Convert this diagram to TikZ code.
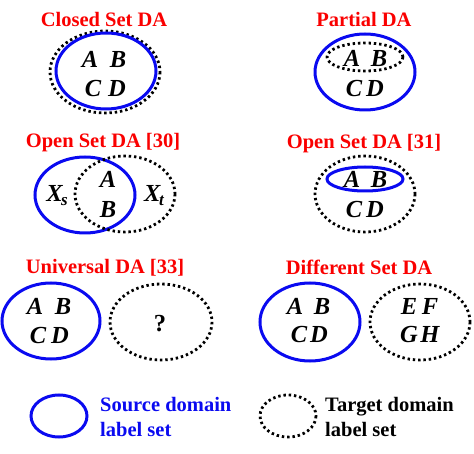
\documentclass[tikz,border=0pt]{standalone}
\usepackage{fontspec}
\setmainfont{Liberation Serif}
\definecolor{tred}{RGB}{250,0,0}
\definecolor{sblue}{RGB}{10,10,240}
\begin{document}
\begin{tikzpicture}[x=1pt,y=-1pt,
  src/.style={draw=sblue,line width=3pt},
  tgt/.style={draw=black,line width=2.8pt,dash pattern=on 2.4pt off 2.9pt},
  ttl/.style={anchor=base,text=tred,font=\fontsize{20.5}{22}\selectfont\bfseries,inner sep=0pt},
  lab/.style={anchor=base,font=\fontsize{24.5}{26}\selectfont\bfseries\itshape,inner sep=0pt},
  leg/.style={anchor=base west,font=\fontsize{20.5}{22}\selectfont\bfseries,inner sep=0pt}]
\useasboundingbox (0,0) rectangle (474,454);
% Closed Set DA
\node[ttl] (t1) at (104,27) {Closed Set DA};
\draw[tgt] (105,72) ellipse [x radius=55,y radius=41];
\draw[src] (106,71) ellipse [x radius=50,y radius=38];
\node[lab] (a1) at (90,68) {A};
\node[lab] (b1) at (118,68) {B};
\node[lab] (c1) at (93,97) {C};
\node[lab] (d1) at (117,97) {D};
% Partial DA
\node[ttl] (t2) at (364,27) {Partial DA};
\draw[src] (365,72) ellipse [x radius=50,y radius=38];
\draw[tgt] (365,57) ellipse [x radius=38,y radius=14];
\node[lab] (a2) at (352,67) {A};
\node[lab] (b2) at (379,67) {B};
\node[lab] (c2) at (354,97) {C};
\node[lab] (d2) at (375,97) {D};
% Open Set DA [30]
\node[ttl] (t3) at (103,148) {Open Set DA [30]};
\draw[src] (85,195) ellipse [x radius=50,y radius=38];
\draw[tgt] (125,194) ellipse [x radius=50,y radius=38];
\node[lab] (xs) at (57,202) {X\kern-1.5pt\raisebox{-4pt}{\fontsize{17}{18}\selectfont s}};
\node[lab] (a3) at (108,188) {A};
\node[lab] (b3) at (108,218) {B};
\node[lab] (xt) at (154,202) {X\kern-1.5pt\raisebox{-4pt}{\fontsize{17}{18}\selectfont t}};
% Open Set DA [31]
\node[ttl] (t4) at (364,149) {Open Set DA [31]};
\draw[tgt] (365,194) ellipse [x radius=50,y radius=38];
\draw[src] (365,179) ellipse [x radius=38,y radius=12];
\node[lab] (a4) at (352,188) {A};
\node[lab] (b4) at (379,188) {B};
\node[lab] (c4) at (354,218) {C};
\node[lab] (d4) at (375,218) {D};
% Universal DA [33]
\node[ttl] (t5) at (105,274) {Universal DA [33]};
\draw[src] (51,321) ellipse [x radius=49,y radius=38];
\draw[tgt] (161,322) ellipse [x radius=51,y radius=38];
\node[lab] (a5) at (35,315) {A};
\node[lab] (b5) at (63,315) {B};
\node[lab] (c5) at (38,344) {C};
\node[lab] (d5) at (60,344) {D};
\node[lab,font=\fontsize{24.5}{26}\selectfont\bfseries] (q5) at (160,332) {?};
% Different Set DA
\node[ttl] (t6) at (359,275) {Different Set DA};
\draw[src] (310,322) ellipse [x radius=50,y radius=39];
\draw[tgt] (420,322) ellipse [x radius=50,y radius=38];
\node[lab] (a6) at (295,315) {A};
\node[lab] (b6) at (322,315) {B};
\node[lab] (c6) at (299,343) {C};
\node[lab] (d6) at (319,343) {D};
\node[lab] (e6) at (409,315) {E};
\node[lab] (f6) at (430,315) {F};
\node[lab] (g6) at (409,343) {G};
\node[lab] (h6) at (430,343) {H};
% Legend
\draw[src] (59,416) ellipse [x radius=28,y radius=21];
\node[leg,text=sblue] (ls1) at (100,411) {Source domain};
\node[leg,text=sblue] (ls2) at (100,436) {label set};
\draw[tgt] (288,416) ellipse [x radius=28,y radius=21];
\node[leg] (lt1) at (325,411) {Target domain};
\node[leg] (lt2) at (325,436) {label set};
\end{tikzpicture}
\end{document}
